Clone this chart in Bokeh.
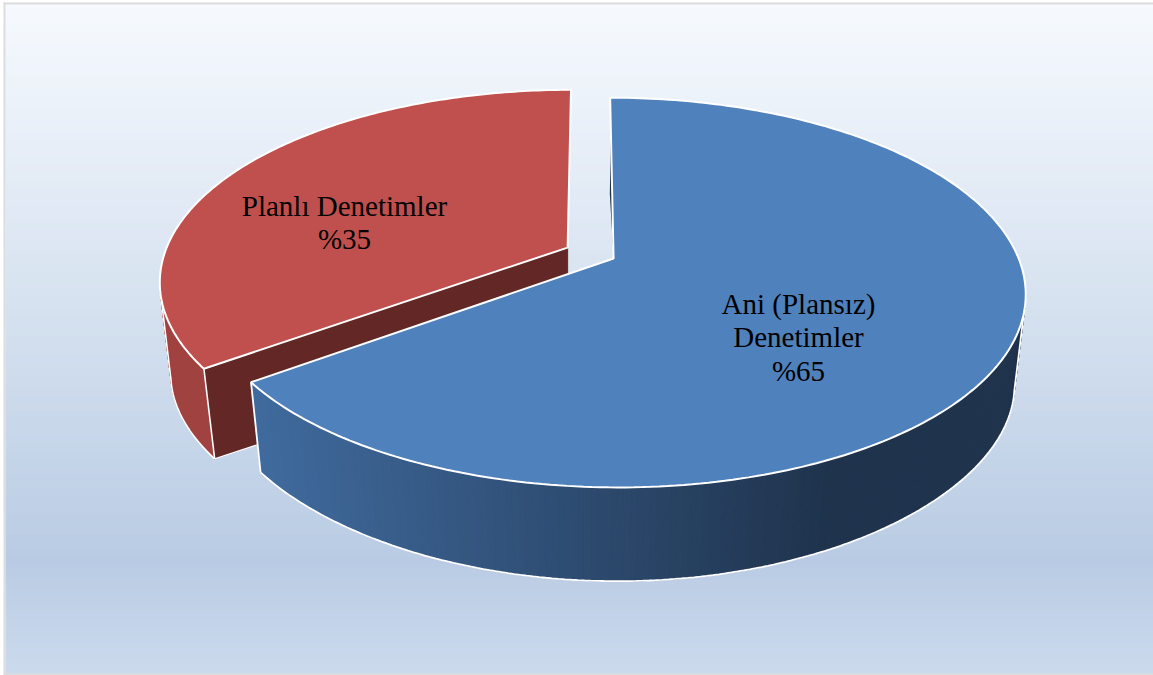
import numpy as np
from bokeh.core.properties import value
from bokeh.embed import file_html
from bokeh.models import Range1d
from bokeh.plotting import figure
from bokeh.resources import INLINE

# Shares of inspections, in percent
categories = ["Ani (Plansız) Denetimler", "Planlı Denetimler"]
shares = [65, 35]
label_lines = [["Ani (Plansız)", "Denetimler"], ["Planlı Denetimler"]]
label_centres = [(798, 303), (344, 205)]

W, H = 1153, 675
LINE_GAP = 33.5
EXPLODE = 0.064
START_DEG = 0.0
BLUE_RIM_END = 102.0
RED_RIM_END = 258.0

# Perspective camera for the upper and the lower face of the disc
UPPER = dict(x0=590.0, y0=252.5, a=403.0, b=187.0, kx=0.174, ky=0.174)
LOWER = dict(x0=590.0, y0=347.0, a=393.0, b=174.0, kx=0.169, ky=0.227)

BLUE, RED = "#4f81bd", "#c0504d"
RED_SIDE, RED_WALL = "#a0423f", "#632825"
SIDE_LIGHT, SIDE_DARK = np.array([64, 107, 158]), np.array([31, 51, 77])
OUTLINE = "#ffffff"
BACK_STOPS = [(3, (245, 249, 254)), (300, (209, 222, 238)), (560, (175, 196, 224)), (675, (197, 213, 234))]


def project(cam, theta_deg, mid_deg, radius=1.0):
    th, mid = np.radians(theta_deg), np.radians(mid_deg)
    wx = radius * np.sin(th) + EXPLODE * np.sin(mid)
    wv = radius * np.cos(th) + EXPLODE * np.cos(mid)
    return (cam["x0"] + cam["a"] * wx / (1 + cam["kx"] * wv),
            cam["y0"] - cam["b"] * wv / (1 + cam["ky"] * wv))


def hex_of(rgb):
    return "#%02x%02x%02x" % tuple(int(round(c)) for c in rgb)


p = figure(width=W, height=H, output_backend="svg", toolbar_location=None,
           x_range=Range1d(0, W), y_range=Range1d(H, 0), min_border=0)
p.axis.visible = False
p.grid.visible = False
p.outline_line_color = None
p.background_fill_color = "#ffffff"
p.border_fill_color = "#ffffff"

# Panel background: one-pixel bands for the vertical gradient, with a thin grey frame
rows = np.arange(BACK_STOPS[0][0], H)
stop_y = [s[0] for s in BACK_STOPS]
band = [hex_of([np.interp(y, stop_y, [s[1][i] for s in BACK_STOPS]) for i in range(3)]) for y in rows]
p.quad(left=5, right=W, top=rows, bottom=rows + 1.2, fill_color=band, line_color=None)
p.quad(left=[3, 3, 3], right=[5, W, W], top=[2, 2, 673], bottom=[675, 4, 675],
       fill_color="#dcdcdc", line_color=None)

sweep_blue = shares[0] * 3.6
blue_a, blue_b = START_DEG, START_DEG + sweep_blue
red_a, red_b = blue_b, START_DEG + 360
mid_blue = (blue_a + blue_b) / 2
mid_red = (red_a + red_b) / 2

# Red slice: rim, cut wall, top face
t = np.linspace(red_a, RED_RIM_END, 40)
ux, uy = project(UPPER, t, mid_red)
lx, ly = project(LOWER, t, mid_red)
xs = [[ux[i], ux[i + 1], lx[i + 1], lx[i]] for i in range(len(t) - 1)]
ys = [[uy[i], uy[i + 1], ly[i + 1], ly[i]] for i in range(len(t) - 1)]
p.patches(xs, ys, fill_color=RED_SIDE, line_color=RED_SIDE, line_width=1)
p.line(np.r_[lx, ux[-1]], np.r_[ly, uy[-1]], line_color=OUTLINE, line_width=1.6)

ax_u, ay_u = project(UPPER, 0, mid_red, radius=0)
ax_l, ay_l = project(LOWER, 0, mid_red, radius=0)
cx_u, cy_u = project(UPPER, red_a, mid_red)
cx_l, cy_l = project(LOWER, red_a, mid_red)
p.patch([cx_u, ax_u, ax_u, cx_l], [cy_u, ay_u, ay_l, cy_l], fill_color=RED_WALL, line_color=RED_WALL)
p.line([ax_u, cx_l], [ay_l, cy_l], line_color=OUTLINE, line_width=1.4)
p.line([cx_u, cx_l], [cy_u, cy_l], line_color=OUTLINE, line_width=1.6)

t = np.linspace(red_a, red_b, 160)
ux, uy = project(UPPER, t, mid_red)
p.patch(np.r_[ax_u, ux], np.r_[ay_u, uy], fill_color=RED, line_color=OUTLINE, line_width=2)

# Blue slice: narrow sliver of its start wall, graded rim, top face
ax_u, ay_u = project(UPPER, 0, mid_blue, radius=0)
sx, sy = project(UPPER, blue_a, mid_blue)
f = np.array([0.2, 0.6])
p.patch([sx + f[0] * (ax_u - sx), ax_u, sx + f[1] * (ax_u - sx) - 2.4],
        [sy + f[0] * (ay_u - sy), ay_u, sy + f[1] * (ay_u - sy)],
        fill_color=hex_of(SIDE_DARK), line_color=None)

t = np.linspace(blue_b, BLUE_RIM_END, 170)
ux, uy = project(UPPER, t, mid_blue)
lx, ly = project(LOWER, t, mid_blue)
xs, ys, colours = [], [], []
for i in range(len(t) - 1):
    xs.append([ux[i], ux[i + 1], lx[i + 1], lx[i]])
    ys.append([uy[i], uy[i + 1], ly[i + 1], ly[i]])
    g = np.clip((lx[i] - 260) / 560, 0, 1)
    colours.append(hex_of(SIDE_LIGHT + g * (SIDE_DARK - SIDE_LIGHT)))
p.patches(xs, ys, fill_color=colours, line_color=colours, line_width=1)
p.line(np.r_[lx, ux[-1]], np.r_[ly, uy[-1]], line_color=OUTLINE, line_width=1.8)
p.line([ux[0], lx[0]], [uy[0], ly[0]], line_color=OUTLINE, line_width=1.8)

t = np.linspace(blue_a, blue_b, 240)
ux, uy = project(UPPER, t, mid_blue)
p.patch(np.r_[ax_u, ux], np.r_[ay_u, uy], fill_color=BLUE, line_color=OUTLINE, line_width=2)

# Slice labels
for lines, share, (cx, cy) in zip(label_lines, shares, label_centres):
    for j, text in enumerate(lines + [f"%{share}"]):
        p.text([cx], [cy + j * LINE_GAP], text=[text], text_align="center", text_baseline="middle",
               text_font=value("Liberation Serif"), text_font_size="29px", text_color="#000000")

open("out.html", "w").write(file_html(p, INLINE))
